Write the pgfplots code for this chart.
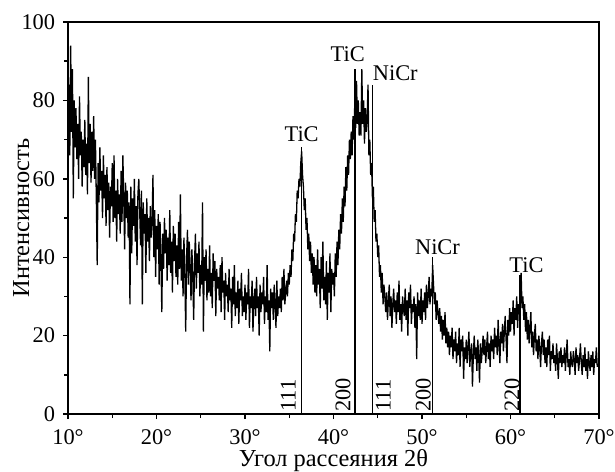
\documentclass[border=0pt]{standalone}
\usepackage{fontspec}
\setmainfont{Liberation Serif}
\usepackage{pgfplots}
\pgfplotsset{compat=1.18}

\begin{document}
\fontsize{11.2}{13.4}\selectfont
\begin{tikzpicture}
\begin{axis}[
  scale only axis, width=265.5pt, height=196pt,
  xmin=10, xmax=70, ymin=0, ymax=100,
  xtick={10,20,...,70},
  xticklabels={10°,20°,30°,40°,50°,60°,70°},
  ytick={0,20,...,100},
  minor x tick num=1, minor y tick num=1,
  tick align=outside, xtick pos=bottom, ytick pos=left,
  major tick length=2.5pt, minor tick length=2pt,
  /pgf/number format/assume math mode=true,
  xticklabel style={yshift=-1.5pt},
  axis line style={line width=0.8pt},
  tick style={black, line width=0.7pt},
  xlabel={Угол рассеяния 2θ}, ylabel={Интенсивность},
  label style={font=\fontsize{12.2}{14}\selectfont},
  xlabel style={at={(axis description cs:0.5,-0.1327)}, anchor=base},
  ylabel style={at={(axis description cs:-0.0734,0.5)}, anchor=base},
]
% diffractogram
\addplot[black, line width=0.65pt, line join=miter, miter limit=4] table[row sep=\\] {
x y\\
10.0 70\\ 10.1 84\\ 10.2 66\\ 10.3 94\\ 10.4 72\\ 10.5 88\\ 10.6 55\\ 10.7 80\\ 10.8 68\\ 10.9 78\\
11.0 65\\ 11.1 74\\ 11.2 60\\ 11.3 81\\ 11.4 66\\ 11.5 72\\ 11.6 58\\ 11.7 70\\ 11.8 63\\ 11.9 75\\
12.0 61\\ 12.1 69\\ 12.2 56\\ 12.3 86\\ 12.4 64\\ 12.5 74\\ 12.6 59\\ 12.7 72\\ 12.8 62\\ 12.9 76\\
13.0 60\\ 13.1 70\\ 13.2 55\\ 13.3 38\\ 13.4 64\\ 13.5 54\\ 13.6 68\\ 13.7 57\\ 13.8 62\\ 13.9 50\\
14.0 66\\ 14.1 55\\ 14.2 61\\ 14.3 48\\ 14.4 63\\ 14.5 52\\ 14.6 59\\ 14.7 45\\ 14.8 58\\ 14.9 53\\
15.0 64\\ 15.1 49\\ 15.2 66\\ 15.3 50\\ 15.4 57\\ 15.5 44\\ 15.6 60\\ 15.7 51\\ 15.8 56\\ 15.9 46\\
16.0 62\\ 16.1 49\\ 16.2 66\\ 16.3 55\\ 16.4 42\\ 16.5 59\\ 16.6 50\\ 16.7 57\\ 16.8 45\\ 16.9 54\\
17.0 28\\ 17.1 58\\ 17.2 41\\ 17.3 55\\ 17.4 48\\ 17.5 60\\ 17.6 44\\ 17.7 53\\ 17.8 38\\ 17.9 56\\
18.0 60\\ 18.1 52\\ 18.2 43\\ 18.3 57\\ 18.4 28\\ 18.5 54\\ 18.6 46\\ 18.7 51\\ 18.8 36\\ 18.9 55\\
19.0 44\\ 19.1 50\\ 19.2 39\\ 19.3 53\\ 19.4 45\\ 19.5 49\\ 19.6 61\\ 19.7 40\\ 19.8 52\\ 19.9 35\\
20.0 48\\ 20.1 42\\ 20.2 51\\ 20.3 33\\ 20.4 49\\ 20.5 40\\ 20.6 26\\ 20.7 46\\ 20.8 37\\ 20.9 50\\
21.0 41\\ 21.1 47\\ 21.2 34\\ 21.3 45\\ 21.4 38\\ 21.5 52\\ 21.6 36\\ 21.7 44\\ 21.8 31\\ 21.9 48\\
22.0 39\\ 22.1 46\\ 22.2 35\\ 22.3 43\\ 22.4 33\\ 22.5 49\\ 22.6 37\\ 22.7 56\\ 22.8 34\\ 22.9 42\\
23.0 30\\ 23.1 45\\ 23.2 36\\ 23.3 21\\ 23.4 40\\ 23.5 47\\ 23.6 33\\ 23.7 44\\ 23.8 38\\ 23.9 29\\
24.0 42\\ 24.1 35\\ 24.2 24\\ 24.3 39\\ 24.4 46\\ 24.5 32\\ 24.6 41\\ 24.7 36\\ 24.8 44\\ 24.9 30\\
25.0 38\\ 25.1 33\\ 25.2 54\\ 25.3 21\\ 25.4 40\\ 25.5 34\\ 25.6 42\\ 25.7 29\\ 25.8 37\\ 25.9 31\\
26.0 43\\ 26.1 30\\ 26.2 36\\ 26.3 27\\ 26.4 41\\ 26.5 34\\ 26.6 39\\ 26.7 25\\ 26.8 37\\ 26.9 32\\
27.0 35\\ 27.1 29\\ 27.2 38\\ 27.3 26\\ 27.4 40\\ 27.5 31\\ 27.6 34\\ 27.7 24\\ 27.8 36\\ 27.9 30\\
28.0 33\\ 28.1 26\\ 28.2 37\\ 28.3 29\\ 28.4 32\\ 28.5 22\\ 28.6 35\\ 28.7 28\\ 28.8 38\\ 28.9 25\\
29.0 31\\ 29.1 27\\ 29.2 34\\ 29.3 23\\ 29.4 32\\ 29.5 29\\ 29.6 36\\ 29.7 25\\ 29.8 30\\ 29.9 26\\
30.0 33\\ 30.1 24\\ 30.2 31\\ 30.3 28\\ 30.4 37\\ 30.5 22\\ 30.6 30\\ 30.7 27\\ 30.8 34\\ 30.9 21\\
31.0 29\\ 31.1 32\\ 31.2 25\\ 31.3 35\\ 31.4 27\\ 31.5 30\\ 31.6 20\\ 31.7 33\\ 31.8 26\\ 31.9 31\\
32.0 28\\ 32.1 35\\ 32.2 23\\ 32.3 30\\ 32.4 26\\ 32.5 38\\ 32.6 24\\ 32.7 29\\ 32.8 16\\ 32.9 32\\
33.0 27\\ 33.1 31\\ 33.2 24\\ 33.3 33\\ 33.4 28\\ 33.5 22\\ 33.6 34\\ 33.7 25\\ 33.8 30\\ 33.9 27\\
34.0 32\\ 34.1 26\\ 34.2 35\\ 34.3 29\\ 34.4 37\\ 34.5 28\\ 34.6 31\\ 34.7 34\\ 34.8 30\\ 34.9 36\\
35.0 33\\ 35.1 38\\ 35.2 35\\ 35.3 42\\ 35.4 39\\ 35.5 46\\ 35.6 44\\ 35.7 51\\ 35.8 49\\ 35.9 57\\
36.0 55\\ 36.1 60\\ 36.2 58\\ 36.3 64\\ 36.4 67\\ 36.5 61\\ 36.6 58\\ 36.7 52\\ 36.8 55\\ 36.9 47\\
37.0 50\\ 37.1 42\\ 37.2 46\\ 37.3 39\\ 37.4 44\\ 37.5 36\\ 37.6 41\\ 37.7 33\\ 37.8 40\\ 37.9 31\\
38.0 38\\ 38.1 30\\ 38.2 42\\ 38.3 33\\ 38.4 37\\ 38.5 27\\ 38.6 40\\ 38.7 32\\ 38.8 44\\ 38.9 29\\
39.0 35\\ 39.1 28\\ 39.2 39\\ 39.3 24\\ 39.4 36\\ 39.5 31\\ 39.6 41\\ 39.7 26\\ 39.8 37\\ 39.9 33\\
40.0 36\\ 40.1 30\\ 40.2 41\\ 40.3 35\\ 40.4 44\\ 40.5 38\\ 40.6 47\\ 40.7 42\\ 40.8 51\\ 40.9 46\\
41.0 55\\ 41.1 49\\ 41.2 58\\ 41.3 53\\ 41.4 63\\ 41.5 57\\ 41.6 66\\ 41.7 61\\ 41.8 70\\ 41.9 65\\
42.0 72\\ 42.1 66\\ 42.2 76\\ 42.3 70\\ 42.4 79\\ 42.5 73\\ 42.6 85\\ 42.7 74\\ 42.8 80\\ 42.9 71\\
43.0 77\\ 43.1 71\\ 43.2 88\\ 43.3 74\\ 43.4 80\\ 43.5 69\\ 43.6 78\\ 43.7 72\\ 43.8 75\\ 43.9 84\\
44.0 66\\ 44.1 70\\ 44.2 61\\ 44.3 64\\ 44.4 55\\ 44.5 58\\ 44.6 49\\ 44.7 52\\ 44.8 44\\ 44.9 46\\
45.0 40\\ 45.1 43\\ 45.2 35\\ 45.3 38\\ 45.4 31\\ 45.5 36\\ 45.6 28\\ 45.7 33\\ 45.8 30\\ 45.9 26\\
46.0 31\\ 46.1 24\\ 46.2 29\\ 46.3 33\\ 46.4 25\\ 46.5 30\\ 46.6 22\\ 46.7 28\\ 46.8 32\\ 46.9 26\\
47.0 29\\ 47.1 23\\ 47.2 31\\ 47.3 26\\ 47.4 34\\ 47.5 24\\ 47.6 28\\ 47.7 21\\ 47.8 30\\ 47.9 27\\
48.0 25\\ 48.1 32\\ 48.2 24\\ 48.3 29\\ 48.4 20\\ 48.5 31\\ 48.6 27\\ 48.7 33\\ 48.8 23\\ 48.9 28\\
49.0 26\\ 49.1 30\\ 49.2 22\\ 49.3 28\\ 49.4 14\\ 49.5 31\\ 49.6 25\\ 49.7 29\\ 49.8 24\\ 49.9 32\\
50.0 23\\ 50.1 29\\ 50.2 26\\ 50.3 31\\ 50.4 24\\ 50.5 33\\ 50.6 27\\ 50.7 30\\ 50.8 35\\ 50.9 28\\
51.0 32\\ 51.1 30\\ 51.2 38\\ 51.3 33\\ 51.4 28\\ 51.5 31\\ 51.6 24\\ 51.7 29\\ 51.8 26\\ 51.9 23\\
52.0 27\\ 52.1 21\\ 52.2 25\\ 52.3 19\\ 52.4 24\\ 52.5 20\\ 52.6 26\\ 52.7 18\\ 52.8 22\\ 52.9 17\\
53.0 21\\ 53.1 15\\ 53.2 20\\ 53.3 17\\ 53.4 22\\ 53.5 14\\ 53.6 19\\ 53.7 16\\ 53.8 21\\ 53.9 13\\
54.0 18\\ 54.1 15\\ 54.2 22\\ 54.3 12\\ 54.4 19\\ 54.5 16\\ 54.6 20\\ 54.7 9\\ 54.8 17\\ 54.9 14\\
55.0 19\\ 55.1 13\\ 55.2 17\\ 55.3 21\\ 55.4 12\\ 55.5 16\\ 55.6 18\\ 55.7 7\\ 55.8 15\\ 55.9 20\\
56.0 14\\ 56.1 17\\ 56.2 11\\ 56.3 19\\ 56.4 15\\ 56.5 8\\ 56.6 18\\ 56.7 13\\ 56.8 16\\ 56.9 20\\
57.0 15\\ 57.1 19\\ 57.2 13\\ 57.3 17\\ 57.4 21\\ 57.5 14\\ 57.6 18\\ 57.7 12\\ 57.8 20\\ 57.9 16\\
58.0 19\\ 58.1 14\\ 58.2 22\\ 58.3 17\\ 58.4 20\\ 58.5 15\\ 58.6 24\\ 58.7 18\\ 58.8 13\\ 58.9 21\\
59.0 18\\ 59.1 23\\ 59.2 16\\ 59.3 21\\ 59.4 25\\ 59.5 19\\ 59.6 13\\ 59.7 24\\ 59.8 20\\ 59.9 27\\
60.0 21\\ 60.1 26\\ 60.2 23\\ 60.3 29\\ 60.4 20\\ 60.5 27\\ 60.6 24\\ 60.7 30\\ 60.8 22\\ 60.9 28\\
61.0 26\\ 61.1 31\\ 61.2 36\\ 61.3 27\\ 61.4 30\\ 61.5 24\\ 61.6 28\\ 61.7 21\\ 61.8 26\\ 61.9 19\\
62.0 24\\ 62.1 18\\ 62.2 22\\ 62.3 26\\ 62.4 17\\ 62.5 21\\ 62.6 15\\ 62.7 20\\ 62.8 23\\ 62.9 16\\
63.0 19\\ 63.1 14\\ 63.2 20\\ 63.3 17\\ 63.4 12\\ 63.5 18\\ 63.6 21\\ 63.7 15\\ 63.8 19\\ 63.9 13\\
64.0 17\\ 64.1 12\\ 64.2 19\\ 64.3 15\\ 64.4 20\\ 64.5 11\\ 64.6 16\\ 64.7 14\\ 64.8 18\\ 64.9 13\\
65.0 15\\ 65.1 11\\ 65.2 18\\ 65.3 14\\ 65.4 9\\ 65.5 16\\ 65.6 13\\ 65.7 17\\ 65.8 12\\ 65.9 15\\
66.0 13\\ 66.1 17\\ 66.2 11\\ 66.3 15\\ 66.4 19\\ 66.5 12\\ 66.6 14\\ 66.7 10\\ 66.8 16\\ 66.9 13\\
67.0 12\\ 67.1 16\\ 67.2 14\\ 67.3 10\\ 67.4 17\\ 67.5 13\\ 67.6 15\\ 67.7 11\\ 67.8 14\\ 67.9 18\\
68.0 13\\ 68.1 10\\ 68.2 15\\ 68.3 12\\ 68.4 17\\ 68.5 11\\ 68.6 14\\ 68.7 9\\ 68.8 16\\ 68.9 13\\
69.0 11\\ 69.1 15\\ 69.2 12\\ 69.3 16\\ 69.4 10\\ 69.5 14\\ 69.6 13\\ 69.7 17\\ 69.8 12\\
};
% reflection markers
\addplot[black, line width=0.8pt] coordinates {(36.4,0) (36.4,68)};
\addplot[black, line width=0.8pt] coordinates {(42.4,0) (42.4,88)};
\addplot[black, line width=0.8pt] coordinates {(44.4,0) (44.4,84)};
\addplot[black, line width=0.8pt] coordinates {(51.2,0) (51.2,40)};
\addplot[black, line width=0.8pt] coordinates {(61.1,0) (61.1,35.5)};
% phase labels
\node[anchor=base] at (axis cs:36.4,69.4) {TiC};
\node[anchor=base] at (axis cs:41.6,89.8) {TiC};
\node[anchor=base west, inner sep=0pt] at (axis cs:44.4,85.2) {NiCr};
\node[anchor=base, inner sep=0pt] at (axis cs:51.75,40.6) {NiCr};
\node[anchor=base, inner sep=0pt] at (axis cs:61.8,36) {TiC};
% hkl
\node[rotate=90, anchor=base west, inner sep=0pt] at (axis cs:35.72,0.5) {111};
\node[rotate=90, anchor=base west, inner sep=0pt] at (axis cs:41.9,0.5) {200};
\node[rotate=90, anchor=north west, inner sep=0pt] at (axis cs:44.74,0.5) {111};
\node[rotate=90, anchor=base west, inner sep=0pt] at (axis cs:50.97,0.5) {200};
\node[rotate=90, anchor=base west, inner sep=0pt] at (axis cs:61.0,0.5) {220};
\end{axis}
\pgfresetboundingbox
\path[use as bounding box] ([xshift=-34pt,yshift=-28.5pt]current axis.south west) rectangle ([xshift=8pt,yshift=11pt]current axis.north east);
\end{tikzpicture}
\end{document}
